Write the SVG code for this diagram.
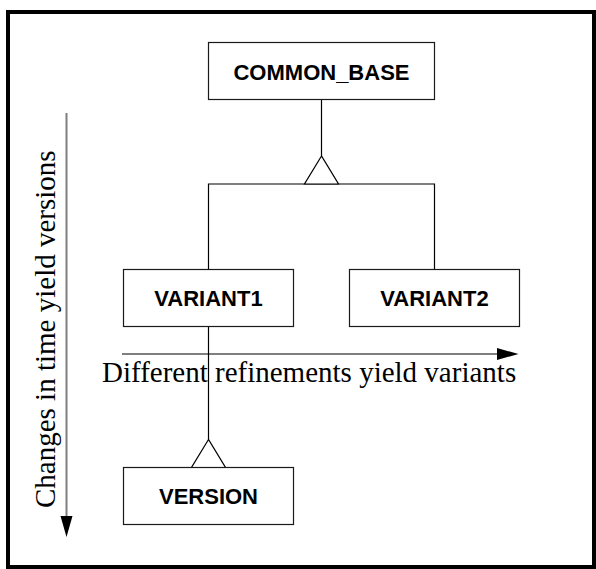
<svg xmlns="http://www.w3.org/2000/svg" width="596" height="569" viewBox="0 0 596 569">
  <style>
    .box { fill: #ffffff; stroke: #1a1a1a; stroke-width: 1.2; }
    .name { font-family: "Liberation Sans", Arial, sans-serif; font-weight: bold; font-size: 22px; fill: #000000; text-anchor: middle; }
    .link { fill: none; stroke: #000000; stroke-width: 1.2; }
    .inherit { fill: #ffffff; stroke: #000000; stroke-width: 1.2; stroke-linejoin: miter; }
    .axis { fill: none; stroke: #7f7f7f; stroke-width: 2; }
    .axis-head { fill: #000000; stroke: none; }
    .axis-label { font-family: "Liberation Serif", "Times New Roman", serif; font-size: 29px; fill: #000000; }
  </style>

  <!-- outer frame -->
  <rect x="8" y="12" width="586" height="555" fill="#ffffff" stroke="#000000" stroke-width="4"/>

  <!-- axes -->
  <g id="axis-time">
    <line class="axis" x1="66.5" y1="113" x2="66.5" y2="517"/>
    <polygon class="axis-head" points="60.5,516 72.5,516 66.5,537"/>
    <text class="axis-label" transform="translate(55,508) rotate(-90)">Changes in time yield versions</text>
  </g>
  <g id="axis-refinement">
    <line class="axis" x1="122" y1="354" x2="498" y2="354"/>
    <polygon class="axis-head" points="497,348 497,360 518.5,354"/>
  </g>

  <!-- inheritance connectors -->
  <g id="connectors">
    <line class="link" x1="321.5" y1="99.5" x2="321.5" y2="156"/>
    <polyline class="link" points="208.5,269 208.5,184 434.5,184 434.5,269"/>
    <polygon class="inherit" points="321.5,156 304.5,184 338.5,184"/>
    <line class="link" x1="208.5" y1="326.5" x2="208.5" y2="439.5"/>
    <polygon class="inherit" points="208.5,439.5 191.5,467.5 225.5,467.5"/>
  </g>

  <!-- label sits over the variant line as in the source drawing -->
  <text class="axis-label" x="102" y="382">Different refinements yield variants</text>

  <g id="common-base">
    <rect class="box" x="208.5" y="42.5" width="226" height="57"/>
    <text class="name" x="321.5" y="80">COMMON_BASE</text>
  </g>
  <g id="variant1">
    <rect class="box" x="123.5" y="269.5" width="170" height="57"/>
    <text class="name" x="208.5" y="306">VARIANT1</text>
  </g>
  <g id="variant2">
    <rect class="box" x="349.5" y="269.5" width="170" height="57"/>
    <text class="name" x="434.5" y="306">VARIANT2</text>
  </g>
  <g id="version">
    <rect class="box" x="123.5" y="467.5" width="170" height="57"/>
    <text class="name" x="208.5" y="504">VERSION</text>
  </g>
</svg>
